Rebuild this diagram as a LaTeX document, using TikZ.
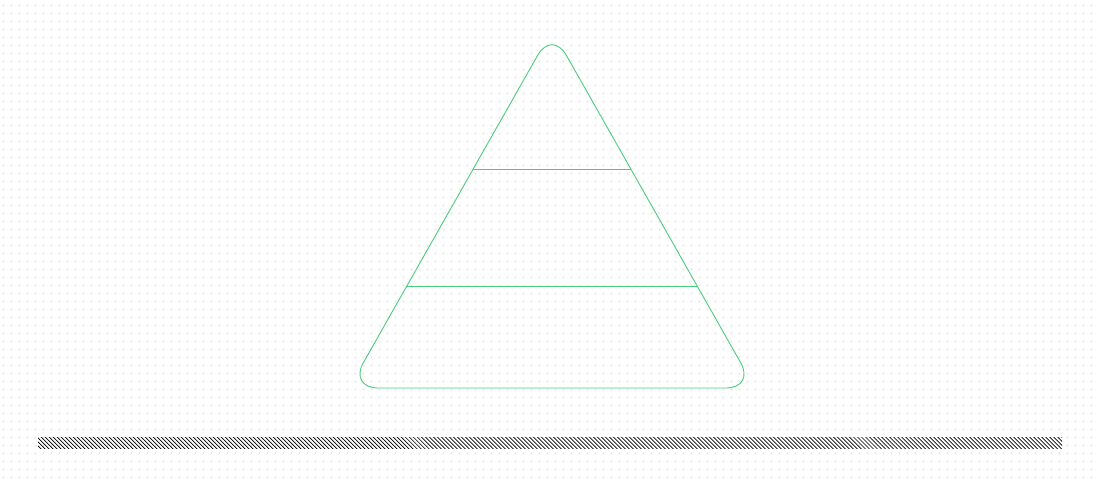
\documentclass[tikz,border=0pt]{standalone}
\usepackage{xcolor}
\usepackage{tikz}
\usetikzlibrary{patterns.meta, calc}
\definecolor{pyrgreen}{HTML}{4CCB7C}
\definecolor{dotgray}{HTML}{E3E3E3}

\tikzdeclarepattern{
  name=griddots,
  type=uncolored,
  bottom left={(0pt,0pt)}, top right={(8pt,8pt)},
  tile size={(8pt,8pt)},
  code={\fill (3pt,3pt) rectangle (5pt,5pt);}
}

\begin{document}
\begin{tikzpicture}[
    x=1pt, y=-1pt,
    tier/.style={draw=pyrgreen, line width=0.9pt, rounded corners=29pt},
    divider/.style={draw=pyrgreen, line width=0.9pt},
    ground/.style={pattern={Lines[angle=-45, distance=2.83pt, line width=0.7pt]}, pattern color=black}
]
\useasboundingbox (0,0) rectangle (1100,480);
% dotted background
\path[pattern=griddots, pattern color=dotgray] (2,2) rectangle (1098,478);

% pyramid outline
\coordinate (apex)  at (552,30);
\coordinate (left)  at (349,388);
\coordinate (right) at (755,388);
\draw[tier] (apex) -- (right) -- (left) -- cycle;

% tier dividers
\coordinate (d1l) at ($(apex)!0.3883!(left)$);
\coordinate (d1r) at ($(apex)!0.3883!(right)$);
\coordinate (d2l) at ($(apex)!0.7151!(left)$);
\coordinate (d2r) at ($(apex)!0.7151!(right)$);
\draw[divider] (d1l) -- (d1r);
\draw[divider] (d2l) -- (d2r);

% hatched ground
\path[ground] (38,437) rectangle (1062,448);
\end{tikzpicture}
\end{document}
